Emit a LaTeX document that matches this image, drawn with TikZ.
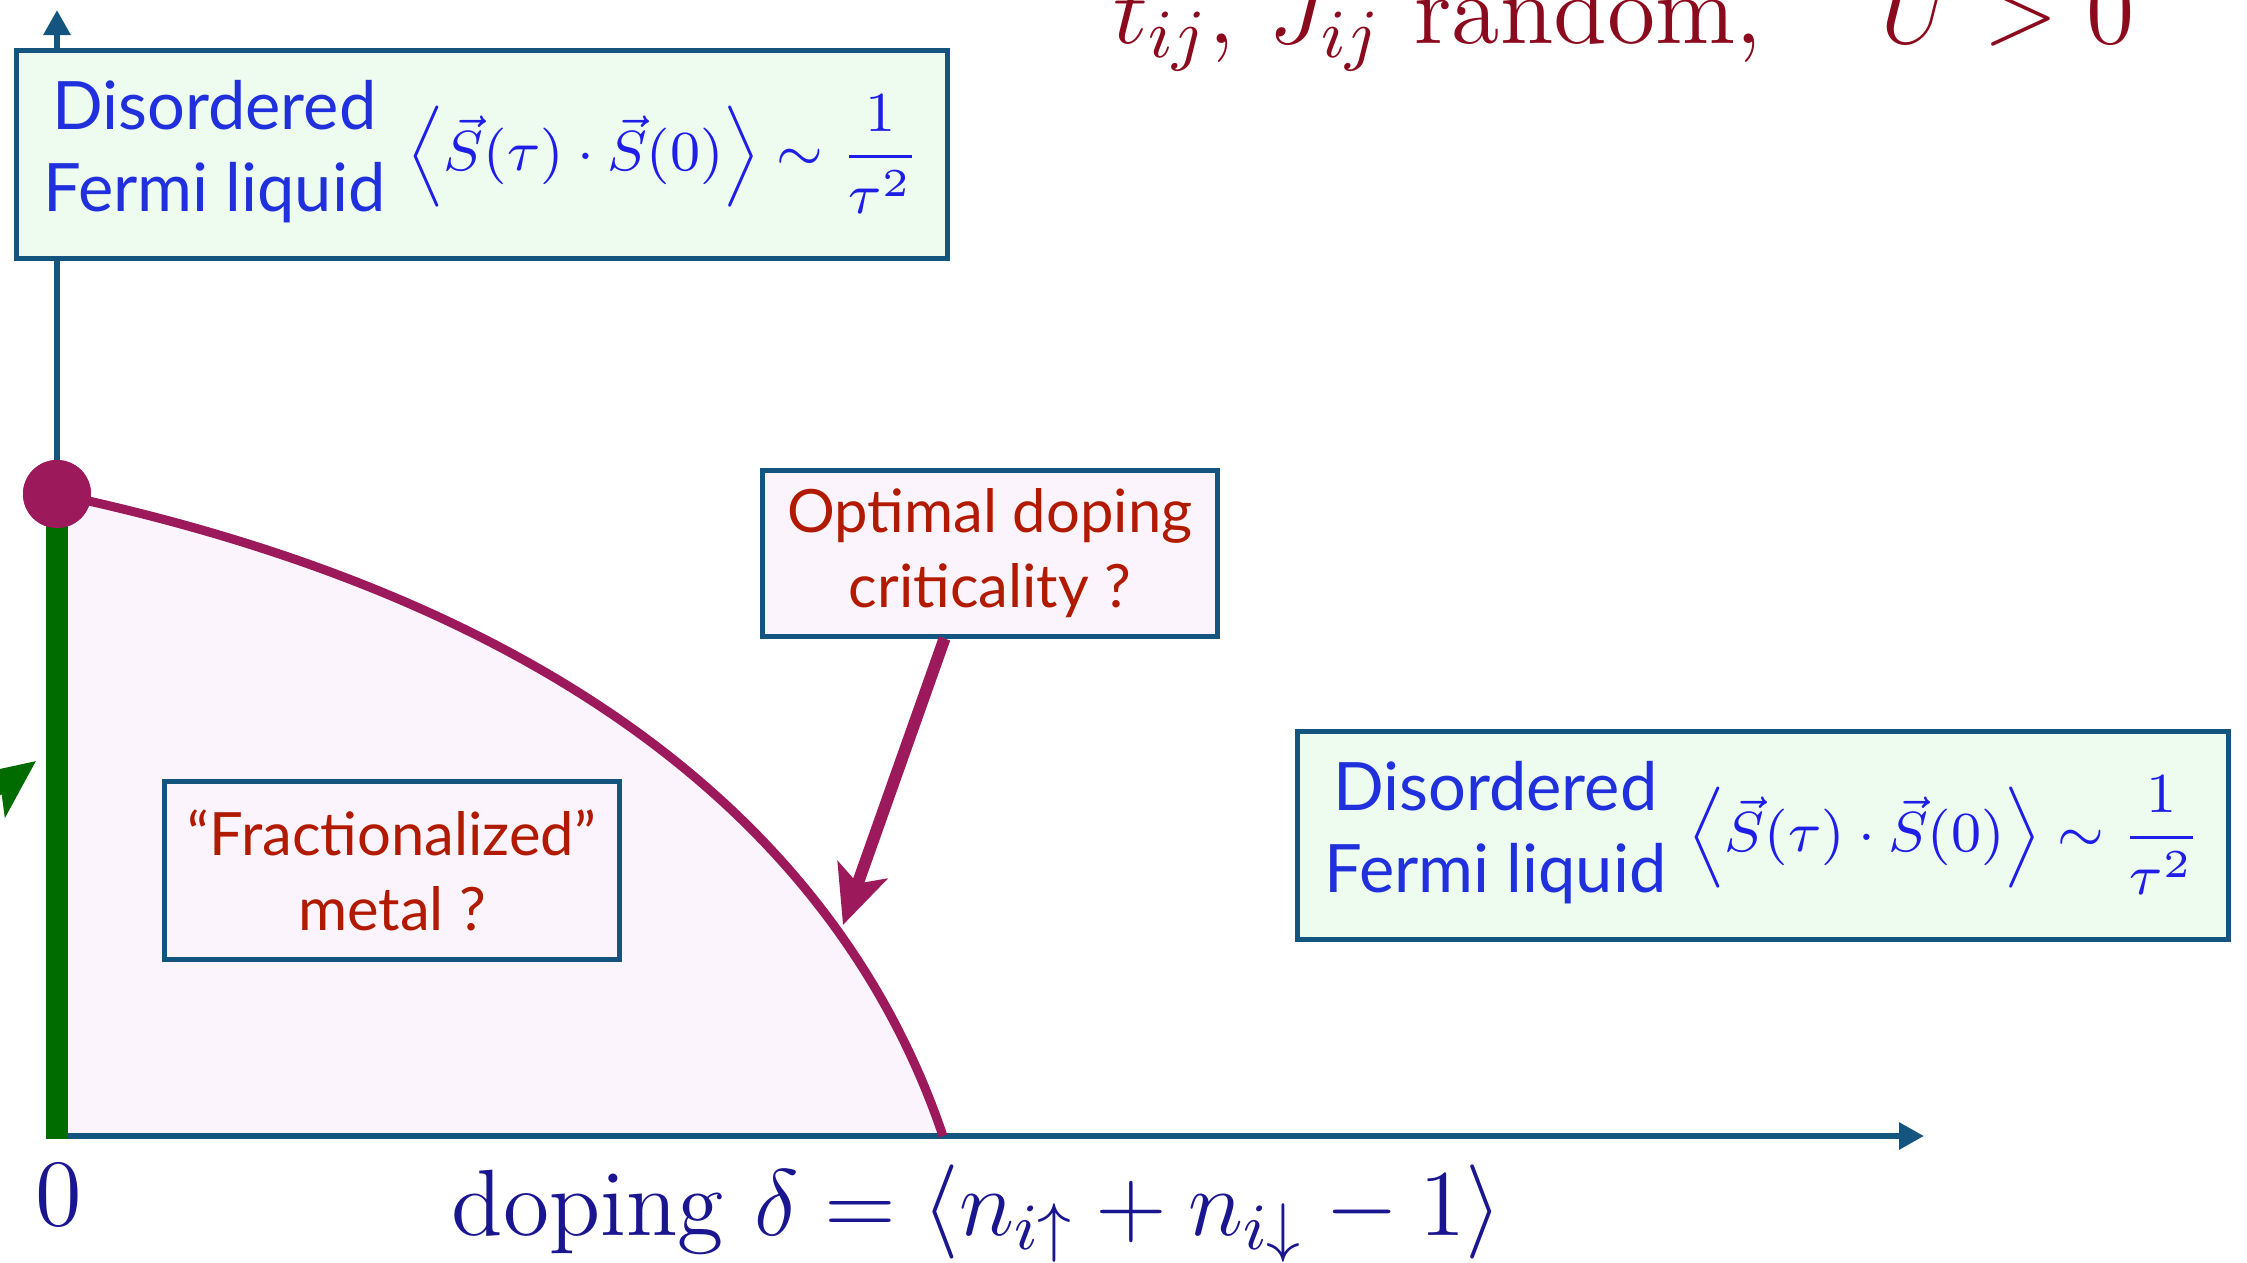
\RequirePackage{fix-cm}
\documentclass[tikz,border=0pt]{standalone}
\usepackage{amsmath}
\usepackage{fontspec}
\usepackage{tikz}
\usetikzlibrary{arrows.meta,calc,positioning}
\newfontfamily\boxfont[Ligatures=TeX]{Lato}
\definecolor{AxisBlue}{HTML}{14557F}
\definecolor{FLGreen}{HTML}{EDFCEE}
\definecolor{FracPink}{HTML}{FBF4FC}
\definecolor{CritPurple}{HTML}{9C1A5C}
\definecolor{BarGreen}{HTML}{006C00}
\definecolor{LabelBlue}{HTML}{2030DC}
\definecolor{MathBlue}{HTML}{1E1EE8}
\definecolor{LabelRed}{HTML}{B21A00}
\definecolor{TitleRed}{HTML}{8C0A1E}
\definecolor{AxisInk}{HTML}{1A1690}
\newcommand{\spincorr}{\color{MathBlue}\fontsize{8.05}{10}\selectfont
  $\displaystyle\Big\langle\vec{S}(\tau)\cdot\vec{S}(0)\Big\rangle\sim\frac{1}{\tau^{2}}$}
\tikzset{
  axis/.style={-{Triangle[length=1.25mm,width=1.3mm]},line width=0.3mm,draw=AxisBlue},
  critline/.style={line width=0.45mm,draw=CritPurple},
  pointer/.style={-{Stealth[length=2.9mm,width=2.6mm,inset=0.7mm]},line width=0.6mm,draw=CritPurple},
  greenpointer/.style={-{Stealth[length=2.9mm,width=2.6mm,inset=0.7mm]},line width=0.6mm,draw=BarGreen},
  flbox/.style={draw=AxisBlue,fill=FLGreen,line width=0.25mm,minimum width=46.5mm,
    minimum height=10.4mm,inner sep=0pt,text=LabelBlue,
    font=\boxfont\fontsize{9.5}{11.6}\selectfont},
  qbox/.style={draw=AxisBlue,fill=FracPink,line width=0.25mm,align=center,
    minimum width=22.75mm,inner sep=0pt,text=LabelRed,
    font=\boxfont\fontsize{8.5}{10.7}\selectfont}
}
\begin{document}
\begin{tikzpicture}[x=0.05mm,y=-0.05mm]
  \useasboundingbox (0,0) rectangle (2247,1262);
  \coordinate (origin) at (57,1136);
  \coordinate (xtip) at (1924,1136);
  \coordinate (ytip) at (57,10);
  \coordinate (dopc) at (943,1136);
  \coordinate (critpt) at (843,925);
  \coordinate (gtail) at (-124,881);
  \coordinate (gtip) at (36,761);
  \fill[FracPink] (57,494) .. controls (650,620) and (865,905) .. (dopc) -- (origin) -- cycle;
  \draw[axis] (origin) -- (xtip);
  \draw[axis] (origin) -- (ytip);
  \node[circle,fill=CritPurple,minimum size=3.4mm,inner sep=0pt] (qcp) at (57,494) {};
  \draw[line width=1.05mm,draw=BarGreen] (qcp.center) -- (57,1139);
  \draw[critline] (qcp.center) .. controls (650,620) and (865,905) .. (dopc);
  \node[circle,fill=CritPurple,minimum size=3.4mm,inner sep=0pt] at (qcp) {};
  \draw[greenpointer] (gtail) -- (gtip);
  \node[flbox] (flTop) at (482,154) {\begin{tabular}{@{}c@{}}Disordered\\Fermi liquid\end{tabular}\hspace{1.1mm}\spincorr};
  \node[flbox] (flRight) at (1763,835) {\begin{tabular}{@{}c@{}}Disordered\\Fermi liquid\end{tabular}\hspace{1.1mm}\spincorr};
  \node[qbox,minimum height=8.3mm] (optbox) at (990,553) {Optimal doping\\criticality ?};
  \node[qbox,minimum height=8.9mm] (fracbox) at (392,870) {“Fractionalized”\\metal ?};
  \draw[pointer] (optbox.242) -- (critpt);
  \node[text=AxisInk,font=\fontsize{13.5}{16}\selectfont] (zero) at (59,1195) {$0$};
  \node[anchor=base,text=AxisInk,font=\fontsize{13.4}{16}\selectfont] (dopinglbl) at (977,1235)
    {doping $\delta=\langle n_{i\uparrow}+n_{i\downarrow}-1\rangle$};
  \node[anchor=base west,inner sep=0pt,text=TitleRed,font=\fontsize{14}{17}\selectfont] (title) at (1112,43)
    {$t_{ij},\,J_{ij}$ random,\quad\hspace{1mm}$U>0$};
\end{tikzpicture}
\end{document}
